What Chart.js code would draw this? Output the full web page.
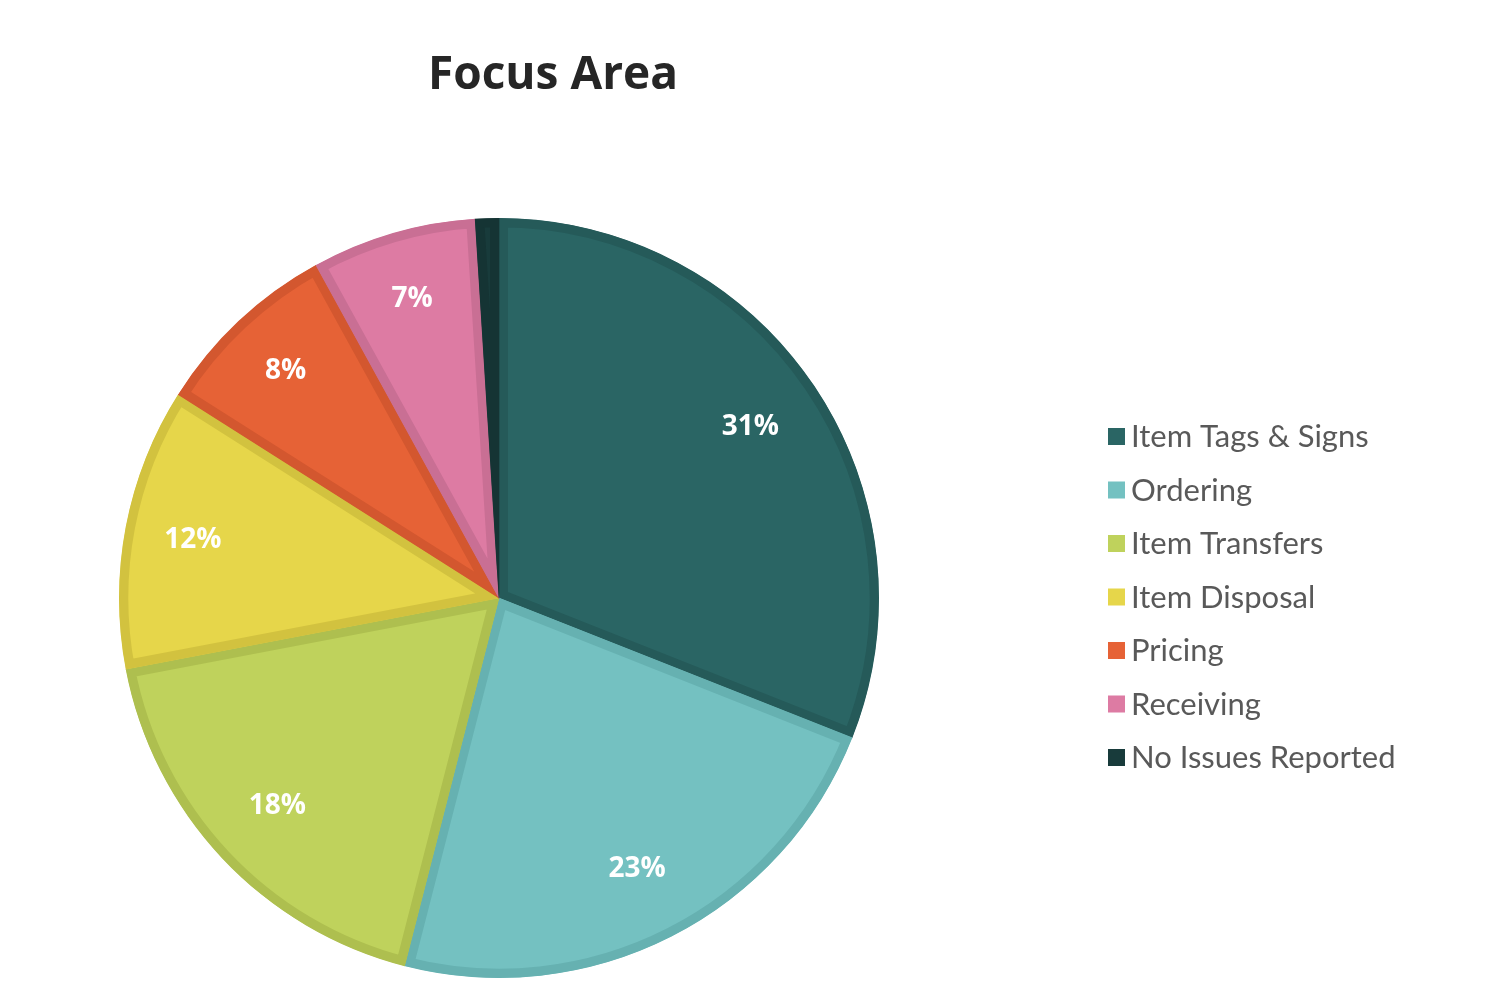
<!DOCTYPE html>
<html lang="en">
<head>
<meta charset="UTF-8">
<script src="https://cdn.jsdelivr.net/npm/chart.js@4.4.0/dist/chart.umd.min.js"></script>
<title>Focus Area</title>
<style>
  html, body { margin: 0; padding: 0; background: #fff; overflow: hidden; }
</style>
</head>
<body>
<canvas id="graph" width="1508" height="1006"></canvas>
<script>
const categories = ['Item Tags & Signs', 'Ordering', 'Item Transfers', 'Item Disposal', 'Pricing', 'Receiving', 'No Issues Reported'];
const shares = [31, 23, 18, 12, 8, 7, 1];
const labelText = ['31%', '23%', '18%', '12%', '8%', '7%', ''];
const fills = ['#2a6564', '#74c1c1', '#bfd25c', '#e6d64a', '#e66236', '#dd7ba3', '#183b3b'];
const edges = ['#255a59', '#66b1b1', '#aebf4f', '#d2c23f', '#d3572f', '#c96f94', '#153434'];

// labels on slices, title and legend drawn in one small plugin
const extras = {
    id: 'extras',
    afterDatasetsDraw(chart) {
        const ctx = chart.ctx;
        const meta = chart.getDatasetMeta(0);
        ctx.save();
        ctx.fillStyle = '#ffffff';
        ctx.font = 'bold 28px "Open Sans"';
        ctx.textAlign = 'center';
        ctx.textBaseline = 'middle';
        meta.data.forEach((arc, i) => {
            const p = arc.getProps(['x', 'y', 'startAngle', 'endAngle', 'outerRadius']);
            const mid = (p.startAngle + p.endAngle) / 2;
            const r = p.outerRadius * (i < 3 ? 0.8 : 0.82);
            ctx.fillText(labelText[i], p.x + Math.cos(mid) * r, p.y + Math.sin(mid) * r);
        });

        ctx.fillStyle = '#262626';
        ctx.font = 'bold 46px "Open Sans"';
        ctx.fillText('Focus Area', 553, 76);

        ctx.textAlign = 'left';
        ctx.font = '31px Lato';
        categories.forEach((c, i) => {
            const y = 436 + i * 53.5;
            ctx.fillStyle = fills[i];
            ctx.fillRect(1108, y - 8, 17, 17);
            ctx.fillStyle = '#595959';
            ctx.fillText(c, 1131, y + 1);
        });
        ctx.restore();
    }
};

new Chart(document.getElementById('graph'), {
    type: 'pie',
    data: {
        labels: categories,
        datasets: [{
            data: shares,
            backgroundColor: fills,
            borderColor: edges,
            borderWidth: 9,
            borderAlign: 'inner'
        }]
    },
    options: {
        responsive: false,
        animation: false,
        devicePixelRatio: 1,
        layout: { padding: { left: 119, top: 218, right: 629, bottom: 28 } },
        plugins: { legend: { display: false }, tooltip: { enabled: false } }
    },
    plugins: [extras]
});
</script>
</body>
</html>
